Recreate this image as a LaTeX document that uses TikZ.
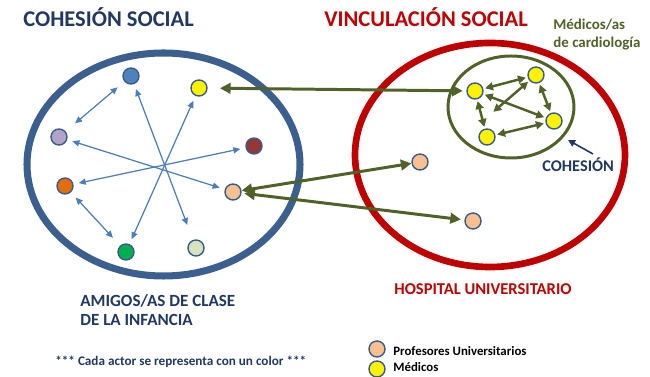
\documentclass[tikz,border=0pt]{standalone}
\usepackage{fontspec}
\setmainfont{Carlito}
\usetikzlibrary{arrows.meta}

\definecolor{navytext}{HTML}{1F3864}
\definecolor{ringblue}{HTML}{3B6090}
\definecolor{ringred}{HTML}{C00000}
\definecolor{olivegreen}{HTML}{4F6228}
\definecolor{edgeblue}{HTML}{385D8A}
\definecolor{starblue}{HTML}{4A7EBB}

\begin{document}
\begin{tikzpicture}[x=0.02cm, y=-0.02cm,
  actor/.style={draw=edgeblue, circle, line width=0.8pt, minimum size=0.32cm, inner sep=0pt},
  tie/.style={draw=starblue, line width=0.7pt, {Triangle[length=4pt,width=3.5pt]}-{Triangle[length=4pt,width=3.5pt]}, shorten <=3pt, shorten >=3pt},
  bridge/.style={draw=olivegreen, line width=1.7pt, {Triangle[length=6pt,width=6pt]}-{Triangle[length=6pt,width=6pt]}},
  cohesion/.style={draw=olivegreen, line width=1.4pt, {Triangle[length=4.5pt,width=4.5pt]}-{Triangle[length=4.5pt,width=4.5pt]}, shorten <=1pt, shorten >=1pt},
  heading/.style={anchor=base west, inner sep=0pt, font=\bfseries\fontsize{12.8}{15}\selectfont},
  caption/.style={anchor=base west, inner sep=0pt, align=left, font=\bfseries\fontsize{9.7}{11.3}\selectfont}
]
\useasboundingbox (0,0) rectangle (650,377);

% circles
\draw[ringblue, line width=4pt] (163.5,164.5) ellipse [x radius=136.5, y radius=111.5];
\draw[ringred, line width=3.8pt] (490,155) ellipse [x radius=135, y radius=112];
\draw[olivegreen, line width=1.7pt] (511,107) ellipse [x radius=63, y radius=51];

% friends
\node[actor, fill={rgb,255:red,79;green,129;blue,189}] (fBlue) at (131,76) {};
\node[actor, fill=yellow] (fYellow) at (199,88) {};
\node[actor, fill={rgb,255:red,179;green,162;blue,199}] (fPurple) at (59,137) {};
\node[actor, fill={rgb,255:red,149;green,55;blue,53}] (fRed) at (254,146) {};
\node[actor, fill={rgb,255:red,228;green,108;blue,10}] (fOrange) at (65,186) {};
\node[actor, fill={rgb,255:red,250;green,192;blue,144}] (fPeach) at (233,192) {};
\node[actor, fill={rgb,255:red,0;green,176;blue,80}] (fGreen) at (126,252) {};
\node[actor, fill={rgb,255:red,215;green,228;blue,189}] (fPale) at (196,248) {};

% hospital
\node[actor, fill={rgb,255:red,250;green,192;blue,144}] (hProf1) at (420,162) {};
\node[actor, fill={rgb,255:red,250;green,192;blue,144}] (hProf2) at (473,221) {};
\node[actor, fill=yellow] (mA) at (475,91) {};
\node[actor, fill=yellow] (mB) at (536,75) {};
\node[actor, fill=yellow] (mC) at (554,121) {};
\node[actor, fill=yellow] (mD) at (487,137) {};
\coordinate (mX) at (492,113);

\draw[tie, shorten >=9pt] (fBlue) -- (fPale);
\draw[tie] (fYellow) -- (fGreen);
\draw[tie] (fPurple) -- (fPeach);
\draw[tie] (fRed) -- (fOrange);
\draw[tie, shorten <=5pt, shorten >=7pt] (fBlue) -- (fPurple);
\draw[tie, shorten <=4pt, shorten >=6pt] (fOrange) -- (fGreen);

\draw[bridge, shorten <=7pt, shorten >=2pt] (fYellow) -- (mA);
\draw[bridge] (fPeach) -- (hProf1);
\draw[bridge, shorten <=1.5pt, shorten >=2pt] (fPeach) -- (hProf2);

\draw[cohesion] (mA) -- (mB);
\draw[cohesion] (mA) -- (mD);
\draw[cohesion] (mA) -- (mC);
\draw[cohesion] (mB) -- (mC);
\draw[cohesion] (mD) -- (mC);
\draw[cohesion] (mB) -- (mX);

% texts
\node[heading, text=navytext] (tCoh) at (23,27) {COHESIÓN SOCIAL};
\node[heading, text=ringred] (tVin) at (324,27) {VINCULACIÓN SOCIAL};
\node[caption, text=olivegreen, font=\bfseries\fontsize{8.5}{10.8}\selectfont] (tCard) at (553,48) {Médicos/as\\de cardiología};
\node[caption, text=navytext, font=\bfseries\fontsize{9.3}{11}\selectfont] (tCohesion) at (542,172) {COHESIÓN};
\coordinate (cohTail) at (593,154);
\coordinate (cohTip) at (568,140);
\draw[navytext, line width=0.9pt, -{Triangle[length=4pt,width=4pt]}] (cohTail) -- (cohTip);
\node[caption, text=navytext] (tAmigos) at (80,326) {AMIGOS/AS DE CLASE\\DE LA INFANCIA};
\node[caption, text=ringred, font=\bfseries\fontsize{9.4}{11}\selectfont] (tHosp) at (394,295) {HOSPITAL UNIVERSITARIO};
\node[caption, text=navytext, font=\bfseries\fontsize{7.5}{9}\selectfont] (tNote) at (55,366) {*** Cada actor se representa con un color ***};

% legend
\node[actor, fill={rgb,255:red,250;green,192;blue,144}] (lgProf) at (377,349) {};
\node[actor, fill=yellow] (lgMed) at (377,369) {};
\node[caption, font=\bfseries\fontsize{7.3}{9}\selectfont] (tProf) at (393,356) {Profesores Universitarios};
\node[caption, font=\bfseries\fontsize{7.3}{9}\selectfont] (tMed) at (393,372) {Médicos};
\end{tikzpicture}
\end{document}
